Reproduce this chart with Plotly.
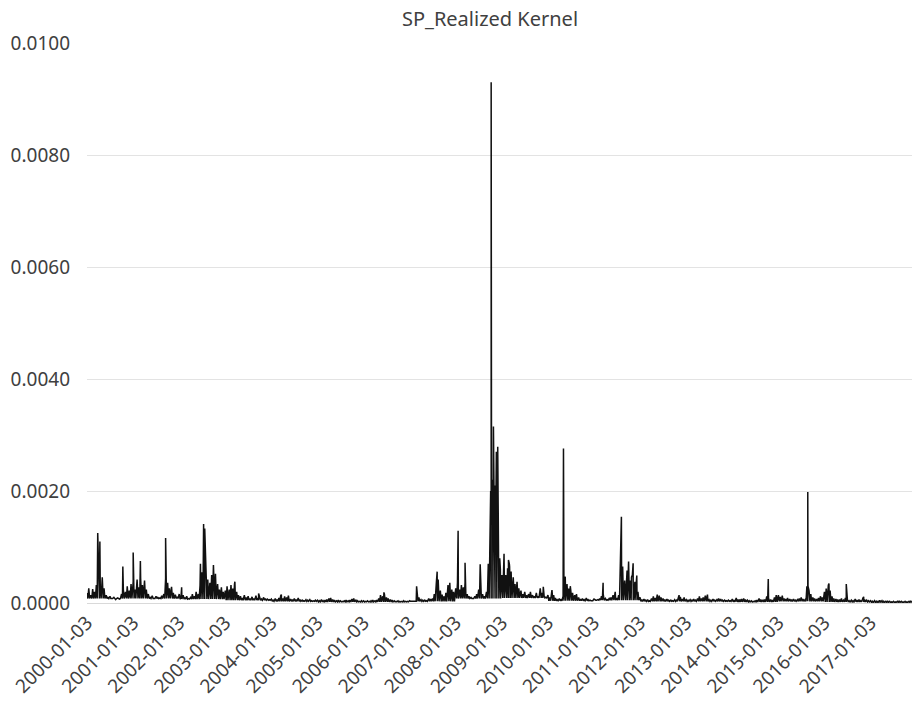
import plotly.graph_objects as go
import pandas as pd

# Realized kernel band-top readings, in units of 1e-4, semi-monthly (3rd and 17th of each month)
rk_2000 = [1.8, 2.6, 1.4, 2.5, 2.0, 3.2, 4.2, 3.0, 4.6, 2.6, 1.4, 1.0, 1.2, 0.8, 1.0, 0.6, 0.9, 0.7, 1.6, 2.4, 2.0, 3.0, 2.2, 3.4]
rk_2001 = [3.8, 2.4, 4.2, 2.8, 4.4, 3.2, 4.0, 2.4, 1.6, 1.0, 1.3, 0.8, 1.2, 1.0, 0.9, 1.3, 1.6, 4.4, 3.6, 2.6, 2.9, 1.8, 1.5, 1.1]
rk_2002 = [1.6, 1.0, 1.4, 0.9, 1.2, 0.8, 1.0, 1.6, 1.2, 2.0, 1.6, 3.2, 5.5, 7.0, 6.0, 4.2, 3.6, 5.0, 4.4, 5.2, 3.4, 2.4, 2.8, 2.0]
rk_2003 = [2.2, 3.0, 2.4, 3.2, 2.6, 3.4, 2.0, 1.4, 1.2, 0.9, 1.4, 1.0, 1.2, 0.8, 1.1, 0.8, 1.3, 0.9, 1.0, 0.7, 1.0, 0.8, 0.7, 0.6]
rk_2004 = [0.7, 0.5, 0.8, 0.6, 0.9, 1.3, 0.8, 1.2, 1.0, 1.3, 0.7, 0.6, 0.8, 0.6, 0.9, 0.6, 0.5, 0.4, 0.6, 0.5, 0.6, 0.4, 0.4, 0.5]
rk_2005 = [0.5, 0.4, 0.6, 0.4, 0.5, 0.6, 0.8, 0.9, 0.6, 0.5, 0.4, 0.5, 0.4, 0.3, 0.4, 0.5, 0.4, 0.5, 0.7, 0.8, 0.5, 0.4, 0.3, 0.4]
rk_2006 = [0.4, 0.3, 0.4, 0.3, 0.4, 0.5, 0.4, 0.5, 0.8, 1.4, 1.2, 1.6, 1.0, 0.8, 0.6, 0.5, 0.4, 0.3, 0.4, 0.3, 0.3, 0.4, 0.3, 0.3]
rk_2007 = [0.4, 0.3, 0.4, 0.3, 1.4, 1.0, 0.6, 0.5, 0.5, 0.4, 0.8, 0.7, 0.8, 1.6, 3.8, 4.2, 2.2, 1.5, 1.2, 1.8, 3.2, 3.6, 2.4, 2.0]
rk_2008 = [2.6, 3.6, 2.4, 3.2, 2.8, 3.6, 1.6, 1.2, 1.0, 0.8, 1.2, 1.6, 2.4, 3.0, 1.6, 1.2, 2.0, 7.0, 15.0, 18.5, 16.0, 19.0, 14.0, 8.0]
rk_2009 = [5.0, 6.5, 5.0, 6.2, 7.0, 5.6, 4.6, 3.4, 3.8, 2.6, 2.2, 1.6, 2.0, 1.4, 1.6, 2.0, 1.4, 1.2, 1.8, 1.2, 2.6, 1.8, 1.4, 1.0]
rk_2010 = [1.4, 1.0, 2.2, 1.4, 0.9, 0.6, 0.8, 0.6, 1.2, 4.6, 3.4, 2.6, 2.2, 1.8, 1.4, 1.6, 1.0, 0.7, 0.8, 0.6, 0.9, 0.6, 0.5, 0.4]
rk_2011 = [0.7, 0.5, 0.6, 0.8, 1.2, 1.6, 0.8, 0.6, 0.8, 1.0, 1.4, 1.2, 0.9, 1.4, 8.0, 6.0, 4.0, 5.2, 6.0, 4.0, 5.0, 3.6, 3.0, 2.0]
rk_2012 = [1.0, 0.6, 0.7, 0.5, 0.6, 0.4, 0.8, 1.2, 0.9, 1.4, 1.3, 1.0, 0.8, 0.6, 0.7, 0.5, 0.5, 0.4, 0.6, 0.5, 0.9, 1.1, 0.7, 1.0]
rk_2013 = [0.6, 0.5, 0.6, 0.5, 0.7, 0.5, 0.8, 1.2, 0.8, 1.0, 1.3, 1.0, 0.6, 0.5, 0.7, 0.5, 0.6, 0.8, 0.7, 0.5, 0.5, 0.4, 0.5, 0.4]
rk_2014 = [0.7, 0.5, 0.9, 0.6, 0.6, 0.7, 0.8, 0.6, 0.5, 0.4, 0.4, 0.3, 0.4, 0.5, 0.8, 0.6, 0.5, 0.6, 1.2, 0.9, 0.6, 0.5, 1.0, 1.4]
rk_2015 = [1.4, 1.1, 1.3, 0.8, 0.7, 0.9, 0.7, 0.6, 0.7, 0.5, 0.6, 0.8, 1.0, 0.7, 0.6, 3.0, 2.2, 1.6, 1.0, 0.8, 0.7, 0.9, 1.2, 1.0]
rk_2016 = [2.0, 2.6, 3.2, 2.2, 1.2, 0.8, 0.7, 0.6, 0.6, 0.8, 0.5, 0.9, 0.6, 0.4, 0.5, 0.4, 0.7, 0.5, 0.6, 0.4, 0.9, 0.6, 0.5, 0.4]
rk_2017 = [0.4, 0.3, 0.4, 0.3, 0.3, 0.5, 0.4, 0.3, 0.3, 0.4, 0.3, 0.2, 0.3, 0.2, 0.3, 0.4, 0.3, 0.2, 0.3, 0.2, 0.3, 0.4, 0.3, 0.3]

# Typical trough level of the daily band for each year (1e-4), read at the 10th and 24th of each month
trough_by_year = [0.8, 0.8, 0.7, 0.5, 0.3, 0.2, 0.2, 0.3, 0.8, 0.9, 0.4, 0.5, 0.3, 0.3, 0.2, 0.3, 0.2, 0.1]

# Single-day spikes and extra readings (date, value in 1e-4)
spike_dates = [
    "2000-03-28", "2000-04-14", "2000-10-13", "2001-01-03", "2001-03-01", "2001-09-17",
    "2002-01-22", "2002-06-20", "2002-07-15", "2002-07-24", "2002-10-01",
    "2003-03-20", "2003-09-24", "2004-03-22", "2006-06-13",
    "2007-02-27", "2007-08-09", "2007-11-12",
    "2008-01-22", "2008-03-17", "2008-07-15", "2008-09-29", "2008-10-06", "2008-10-10",
    "2008-10-13", "2008-10-21", "2008-10-28", "2008-11-05", "2008-11-12", "2008-11-20",
    "2008-11-26", "2008-12-01", "2008-12-08", "2008-12-22",
    "2009-01-20", "2009-02-24", "2009-03-05", "2009-11-27", "2010-02-04",
    "2010-05-06", "2010-05-20", "2010-06-29",
    "2011-03-16", "2011-06-20", "2011-08-04", "2011-08-08", "2011-08-18", "2011-09-22",
    "2011-10-04", "2011-10-27", "2011-11-09", "2011-11-23", "2011-12-08",
    "2012-05-18", "2012-11-07", "2013-06-20",
    "2014-10-15", "2015-08-24", "2015-08-26", "2016-02-08", "2016-06-24", "2016-11-09",
    "2017-11-27",
]
spike_values = [
    12.5, 11.0, 6.5, 9.0, 7.5, 11.6,
    2.8, 7.0, 14.1, 13.3, 6.8,
    3.8, 1.7, 1.5, 1.9,
    3.0, 5.6, 3.6,
    12.9, 7.2, 6.9, 9.0, 20.0, 93.0,
    14.0, 22.0, 31.5, 12.0, 21.0, 27.0,
    11.0, 27.9, 9.0, 6.0,
    8.8, 7.7, 6.5, 2.9, 2.3,
    27.6, 4.7, 3.0,
    3.6, 2.0, 10.7, 15.4, 6.5, 5.8,
    7.4, 4.6, 7.1, 3.8, 4.9,
    1.5, 1.4, 1.5,
    4.3, 19.8, 3.0, 3.5, 3.4, 1.1,
    0.3,
]

first_day = "2000-01-03"
last_day = "2017-11-27"

years = list(range(2000, 2018))
yearly = [rk_2000, rk_2001, rk_2002, rk_2003, rk_2004, rk_2005, rk_2006, rk_2007, rk_2008,
          rk_2009, rk_2010, rk_2011, rk_2012, rk_2013, rk_2014, rk_2015, rk_2016, rk_2017]

tick_labels = [f"{y}-01-03" for y in range(2000, 2018)]

dates, vals = [], []
for y, top_vals, trough in zip(years, yearly, trough_by_year):
    i = 0
    for m in range(1, 13):
        for d_top, d_low in ((3, 10), (17, 24)):
            dates.append(pd.Timestamp(year=y, month=m, day=d_top))
            vals.append(top_vals[i])
            dates.append(pd.Timestamp(year=y, month=m, day=d_low))
            vals.append(trough)
            i += 1

df = pd.DataFrame({
    "date": dates + [pd.Timestamp(s) for s in spike_dates],
    "rk": vals + spike_values,
}).sort_values("date", kind="stable")
df = df[df["date"] <= pd.Timestamp(last_day)]
df["rk"] = df["rk"] * 1e-4

font_family = "Noto Sans, Open Sans, Liberation Sans, sans-serif"
text_color = "#404040"

fig = go.Figure()
fig.add_trace(go.Scatter(
    x=df["date"], y=df["rk"], mode="lines",
    line=dict(color="#111111", width=1.5),
    showlegend=False, hoverinfo="skip",
))

fig.update_layout(
    width=913, height=704, autosize=False,
    margin=dict(l=87, r=1, t=43, b=101),
    paper_bgcolor="white", plot_bgcolor="white",
    title=dict(
        text="SP_Realized Kernel",
        x=0.4885, xref="paper", xanchor="center",
        y=1 - 19 / 704, yref="container", yanchor="middle",
        font=dict(family=font_family, size=20, color=text_color),
    ),
    font=dict(family=font_family, color=text_color),
)

fig.update_xaxes(
    type="date",
    range=[first_day, last_day],
    tickvals=[pd.Timestamp(s) for s in tick_labels],
    ticktext=tick_labels,
    tickangle=-45,
    tickfont=dict(family=font_family, size=19, color=text_color),
    showgrid=False, zeroline=False,
    showline=True, linecolor="#d9d9d9", linewidth=1,
    ticks="",
)
fig.update_yaxes(
    range=[0, 0.01],
    tickvals=[0, 0.002, 0.004, 0.006, 0.008, 0.01],
    tickformat=".4f",
    tickfont=dict(family=font_family, size=19, color=text_color),
    showgrid=True, gridcolor="#e3e3e3", gridwidth=1,
    zeroline=False, showline=False, ticks="",
    ticklabelstandoff=16,
)

fig.write_html(
    "out.html",
    config={"displayModeBar": False},
    post_script="document.body.style.margin='0';document.documentElement.style.overflow='hidden';",
)
